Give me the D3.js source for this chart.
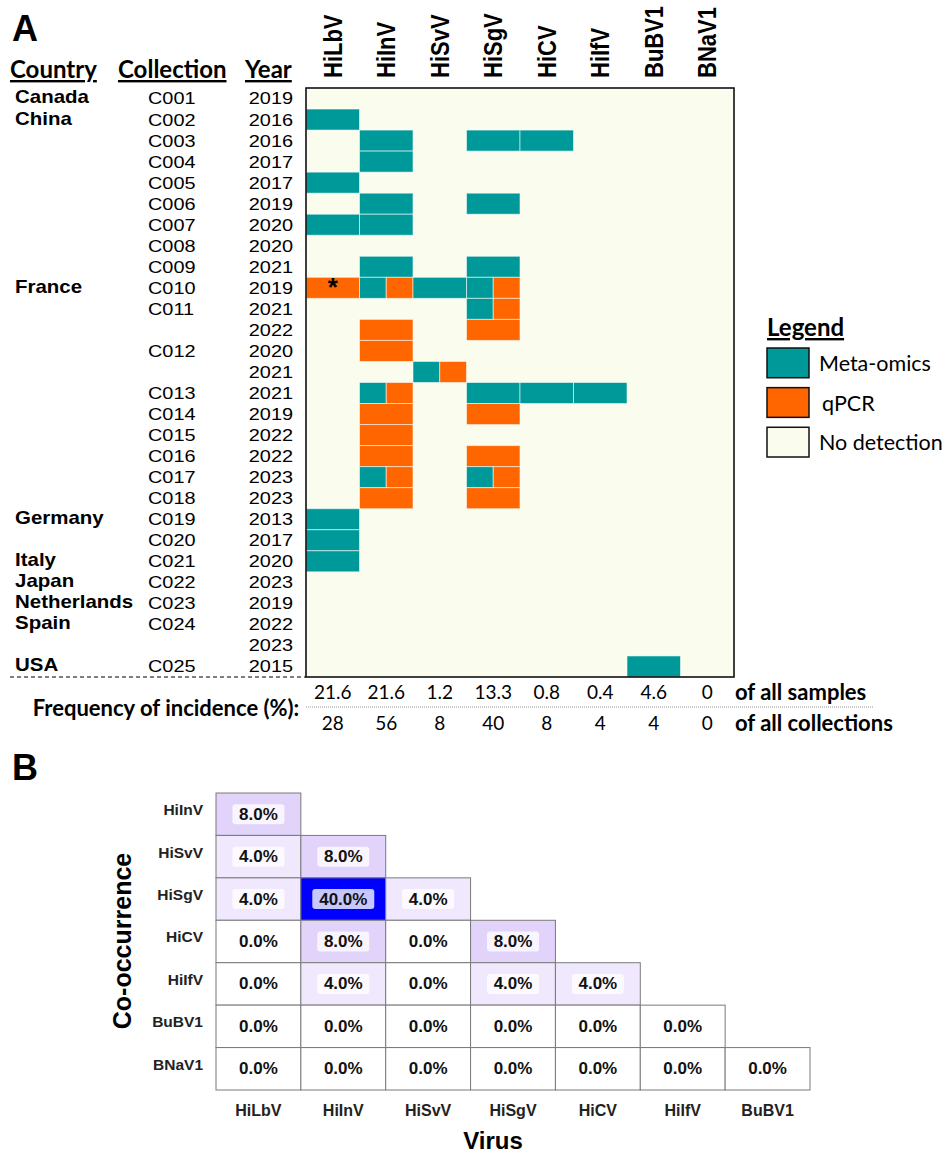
<!DOCTYPE html>
<html><head><meta charset="utf-8">
<script src="https://cdn.jsdelivr.net/npm/d3@7"></script>
<style>body{margin:0;background:#fff} svg{display:block}</style>
</head><body><svg id="fig" width="947" height="1155"></svg>
<script>
// ---------- Panel A data ----------
const viruses = ["HiLbV","HiInV","HiSvV","HiSgV","HiCV","HiIfV","BuBV1","BNaV1"];
const countries = ["Canada","China","","","","","","","","France","","","","","","","","","","","Germany","","Italy","Japan","Netherlands","Spain","","USA"];
const collections = ["C001","C002","C003","C004","C005","C006","C007","C008","C009","C010","C011","","C012","","C013","C014","C015","C016","C017","C018","C019","C020","C021","C022","C023","C024","","C025"];
const years = ["2019","2016","2016","2017","2017","2019","2020","2020","2021","2019","2021","2022","2020","2021","2021","2019","2022","2022","2023","2023","2013","2017","2020","2023","2019","2022","2023","2015"];
// one code per virus: M = meta-omics, Q = qPCR, B = both methods, . = no detection
const detections = [
  "........","M.......",".M.MM...",".M......","M.......",".M.M....","MM......","........",
  ".M.M....","QBMB....","...B....",".Q.Q....",".Q......","..B.....",".B.MMM..",".Q.Q....",
  ".Q......",".Q.Q....",".B.B....",".Q.Q....","M.......","M.......","M.......","........",
  "........","........","........","......M."
];
const flagged = [["C010","HiLbV"]];
const freqSamples = ["21.6","21.6","1.2","13.3","0.8","0.4","4.6","0"];
const freqCollections = ["28","56","8","40","8","4","4","0"];
const legendItems = ["Meta-omics","qPCR","No detection"];

// ---------- Panel B data ----------
const coCols = ["HiLbV","HiInV","HiSvV","HiSgV","HiCV","HiIfV","BuBV1"];
const coRows = ["HiInV","HiSvV","HiSgV","HiCV","HiIfV","BuBV1","BNaV1"];
const coValues = [
  [8.0],
  [4.0, 8.0],
  [4.0, 40.0, 4.0],
  [0.0, 8.0, 0.0, 8.0],
  [0.0, 4.0, 0.0, 4.0, 4.0],
  [0.0, 0.0, 0.0, 0.0, 0.0, 0.0],
  [0.0, 0.0, 0.0, 0.0, 0.0, 0.0, 0.0]
];

const META = "#009999", QPCR = "#ff6600", NONE = "#fafcee";
const svg = d3.select("#fig");
const SX = 1.17; // horizontal stretch of the panel A lettering
const ARIAL = "'Liberation Sans', Arial, sans-serif";
const CAL = "Lato, 'Open Sans', sans-serif";

function stext(g, x, y, str, o = {}) {
  const t = g.append("text")
    .attr("transform", `translate(${x},${y}) scale(${o.sx ?? SX},1)` + (o.rot ? ` rotate(${o.rot})` : ""))
    .attr("font-family", o.family || ARIAL)
    .attr("font-size", o.size || 17)
    .attr("font-weight", o.weight || "normal")
    .attr("text-anchor", o.anchor || "start")
    .attr("dominant-baseline", o.baseline || "auto")
    .attr("fill", "#000")
    .text(str);
  if (o.underline) t.attr("text-decoration", "underline");
  return t;
}

// ================= Panel A =================
const gA = svg.append("g");
const rowIds = d3.range(detections.length);
const x = d3.scaleBand().domain(viruses).range([306, 734]);
const y = d3.scaleBand().domain(rowIds).range([88, 677]);

stext(gA, 12, 41, "A", {size: 36, weight: "bold", sx: 1});

// column headers
stext(gA, 10, 78, "Country", {family: CAL, size: 24, weight: "bold", sx: 1, underline: true});
stext(gA, 118, 78, "Collection", {family: CAL, size: 24, weight: "bold", sx: 1, underline: true});
stext(gA, 245, 78, "Year", {family: CAL, size: 24, weight: "bold", sx: 1, underline: true});

viruses.forEach(v => {
  stext(gA, x(v) + x.bandwidth() / 2, 78, v, {size: 22, weight: "bold", rot: -90, baseline: "central"});
});

// row labels
rowIds.forEach(i => {
  const cy = y(i) + y.bandwidth() / 2;
  if (countries[i]) stext(gA, 15, cy - 1, countries[i], {size: 17.5, weight: "bold", baseline: "central"});
  if (collections[i]) stext(gA, 148, cy, collections[i], {size: 17, baseline: "central"});
  stext(gA, 293, cy, years[i], {size: 17, anchor: "end", baseline: "central"});
});

// detection grid
gA.append("rect").attr("x", x.range()[0]).attr("y", y.range()[0])
  .attr("width", x.range()[1] - x.range()[0]).attr("height", y.range()[1] - y.range()[0])
  .attr("fill", NONE);

const cells = [];
rowIds.forEach(i => {
  viruses.forEach((v, j) => {
    const c = detections[i][j];
    if (c === "M" || c === "Q") cells.push({i, v, part: 0, n: 1, color: c === "M" ? META : QPCR});
    if (c === "B") {
      cells.push({i, v, part: 0, n: 2, color: META});
      cells.push({i, v, part: 1, n: 2, color: QPCR});
    }
  });
});
gA.selectAll("rect.cell").data(cells).join("rect").attr("class", "cell")
  .attr("x", d => x(d.v) + d.part * x.bandwidth() / d.n)
  .attr("y", d => y(d.i))
  .attr("width", d => x.bandwidth() / d.n)
  .attr("height", d => y.bandwidth())
  .attr("fill", d => d.color)
  .attr("stroke", "rgba(255,255,255,0.55)")
  .attr("stroke-width", 1);

flagged.forEach(([col, v]) => {
  const i = collections.indexOf(col);
  stext(gA, x(v) + x.bandwidth() / 2, y(i) + y.bandwidth() / 2 + 8, "*", {size: 26, weight: "bold", anchor: "middle", sx: 1});
});

gA.append("rect").attr("x", x.range()[0]).attr("y", y.range()[0])
  .attr("width", x.range()[1] - x.range()[0]).attr("height", y.range()[1] - y.range()[0])
  .attr("fill", "none").attr("stroke", "#111").attr("stroke-width", 1.6);

// separator under the table
gA.append("line").attr("x1", 10).attr("x2", x.range()[0]).attr("y1", 677).attr("y2", 677)
  .attr("stroke", "#000").attr("stroke-width", 1.2).attr("stroke-dasharray", "4,3");

// frequency rows
stext(gA, 166, 707, "Frequency of incidence (%):", {family: CAL, size: 22, weight: "bold", anchor: "middle", sx: 1, baseline: "central"});
viruses.forEach((v, j) => {
  stext(gA, x(v) + x.bandwidth() / 2, 691, freqSamples[j], {family: CAL, size: 19, anchor: "middle", sx: 1, baseline: "central"});
  stext(gA, x(v) + x.bandwidth() / 2, 722, freqCollections[j], {family: CAL, size: 19, anchor: "middle", sx: 1, baseline: "central"});
});
gA.append("line").attr("x1", 306).attr("x2", 873).attr("y1", 707).attr("y2", 707)
  .attr("stroke", "#999").attr("stroke-width", 1).attr("stroke-dasharray", "1,1");
stext(gA, 735, 691, "of all samples", {family: CAL, size: 22, weight: "bold", sx: 1, baseline: "central"});
stext(gA, 735, 722, "of all collections", {family: CAL, size: 22, weight: "bold", sx: 1, baseline: "central"});

// legend
const gL = svg.append("g");
stext(gL, 767, 336, "Legend", {family: CAL, size: 24, weight: "bold", sx: 1, underline: true});
const legY = d3.scaleBand().domain(legendItems).range([348, 457]).paddingInner(0.25);
const legColor = d3.scaleOrdinal(legendItems, [META, QPCR, NONE]);
gL.selectAll("rect").data(legendItems).join("rect")
  .attr("x", 767).attr("y", d => legY(d)).attr("width", 42).attr("height", legY.bandwidth())
  .attr("fill", d => legColor(d)).attr("stroke", "#111").attr("stroke-width", 1.5);
legendItems.forEach(d => {
  stext(gL, d === "qPCR" ? 822 : 819, legY(d) + legY.bandwidth() / 2, d, {family: CAL, size: 21.5, sx: 1, baseline: "central"});
});

// ================= Panel B =================
const gB = svg.append("g");
stext(gB, 12, 780, "B", {size: 36, weight: "bold", sx: 1});
const xb = d3.scaleBand().domain(coCols).range([216, 810]);
const yb = d3.scaleBand().domain(coRows).range([793, 1090]);
const color = d3.scaleLinear().domain([0, 8, 40]).range(["#ffffff", "#e1d3fa", "#0000ff"]);

const coCells = [];
coValues.forEach((row, i) => row.forEach((val, j) => coCells.push({r: coRows[i], c: coCols[j], val})));

gB.selectAll("rect.co").data(coCells).join("rect").attr("class", "co")
  .attr("x", d => xb(d.c)).attr("y", d => yb(d.r))
  .attr("width", xb.bandwidth()).attr("height", yb.bandwidth())
  .attr("fill", d => color(d.val)).attr("stroke", "#7a7a7a").attr("stroke-width", 1);

const lbl = gB.selectAll("g.lbl").data(coCells).join("g").attr("class", "lbl")
  .attr("transform", d => `translate(${xb(d.c) + xb.bandwidth() / 2},${yb(d.r) + yb.bandwidth() / 2})`);
lbl.filter(d => d.val > 0).append("rect")
  .attr("x", d => d.val >= 10 ? -31 : -26).attr("y", -10)
  .attr("width", d => d.val >= 10 ? 62 : 52).attr("height", 20).attr("rx", 3)
  .attr("fill", "#fff").attr("fill-opacity", 0.78);
lbl.append("text").attr("text-anchor", "middle").attr("dominant-baseline", "central")
  .attr("font-family", ARIAL).attr("font-size", 17).attr("font-weight", "bold").attr("fill", "#111")
  .text(d => d.val.toFixed(1) + "%");

// axes
gB.append("g").attr("transform", "translate(0,1110)")
  .call(d3.axisBottom(xb).tickSize(0).tickPadding(0))
  .call(g => g.select(".domain").remove())
  .call(g => g.selectAll("text").attr("font-family", ARIAL).attr("font-size", 16).attr("font-weight", "bold")
    .attr("fill", "#222").attr("dy", "0.35em"));
gB.append("g").attr("transform", "translate(203,-4)")
  .call(d3.axisLeft(yb).tickSize(0).tickPadding(0))
  .call(g => g.select(".domain").remove())
  .call(g => g.selectAll("text").attr("font-family", ARIAL).attr("font-size", 15.5).attr("font-weight", "bold").attr("fill", "#222"));

gB.append("text").attr("transform", "translate(122,941) rotate(-90)")
  .attr("text-anchor", "middle").attr("dominant-baseline", "central")
  .attr("font-family", ARIAL).attr("font-size", 25).attr("font-weight", "bold").text("Co-occurrence");
gB.append("text").attr("x", 493).attr("y", 1140)
  .attr("text-anchor", "middle").attr("dominant-baseline", "central")
  .attr("font-family", ARIAL).attr("font-size", 24).attr("font-weight", "bold").text("Virus");
</script></body></html>
